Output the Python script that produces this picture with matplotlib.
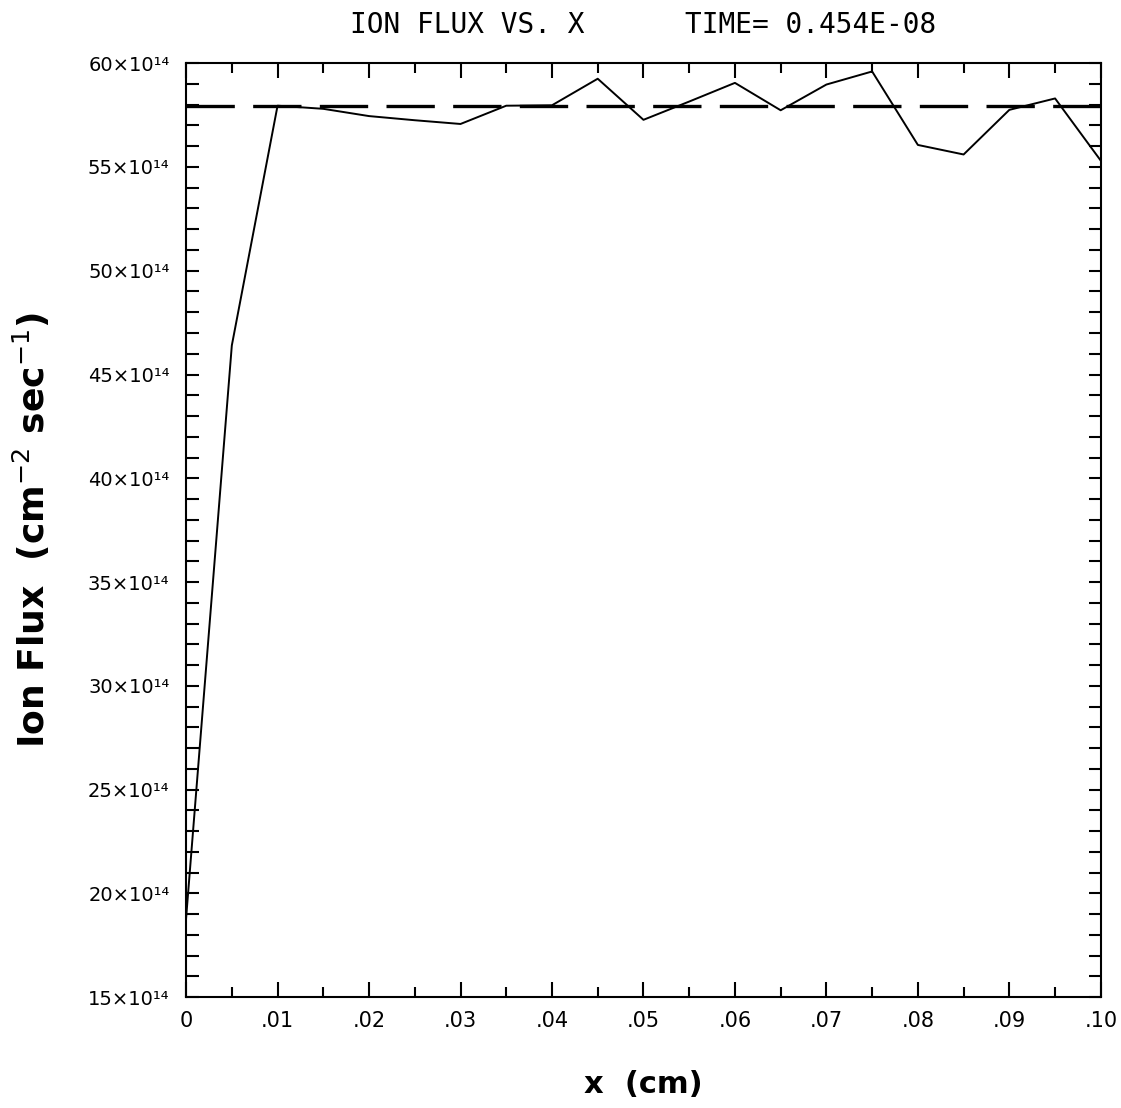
"""
Ion flux vs. x at t = 0.454E-08 s, with the reference (steady) flux as a dashed line.
"""
import matplotlib
matplotlib.use("Agg")
import matplotlib.pyplot as plt
from matplotlib.ticker import MultipleLocator, FuncFormatter

# ── Data (flux in units of 1e14 cm^-2 s^-1) ───────────────────────────────────
x_cm = [0.000, 0.005, 0.010, 0.015, 0.020, 0.025, 0.030, 0.035, 0.040, 0.045,
        0.050, 0.055, 0.060, 0.065, 0.070, 0.075, 0.080, 0.085, 0.090, 0.095,
        0.100]
ion_flux = [18.8, 46.4, 57.95, 57.8, 57.45, 57.25, 57.07, 57.95, 57.97, 59.25,
            57.27, 58.15, 59.05, 57.73, 58.97, 59.6, 56.06, 55.6, 57.75, 58.3,
            55.3]
ref_flux = 57.95
x_ticks = [0.0, 0.01, 0.02, 0.03, 0.04, 0.05, 0.06, 0.07, 0.08, 0.09, 0.10]
x_ticklabels = ["0", ".01", ".02", ".03", ".04", ".05", ".06", ".07", ".08", ".09", ".10"]

# ── Style ──────────────────────────────────────────────────────────────────────
plt.rcParams.update({
    "font.family": "DejaVu Sans",
    "axes.linewidth": 1.5,
})

fig = plt.figure(figsize=(11.21, 11.08), dpi=100)
ax = fig.add_axes([0.166, 0.100, 0.816, 0.843])

ax.plot(x_cm, ion_flux, color="black", linewidth=1.4)
ax.plot([x_cm[0], x_cm[-1]], [ref_flux, ref_flux], color="black",
        linewidth=2.4, linestyle=(0, (14.5, 5.5)))

ax.set_xlim(0, 0.10)
ax.set_ylim(15, 60)

ax.set_xticks(x_ticks)
ax.set_xticklabels(x_ticklabels)
ax.xaxis.set_minor_locator(MultipleLocator(0.005))
ax.yaxis.set_major_locator(MultipleLocator(5))
ax.yaxis.set_minor_locator(MultipleLocator(1))
ax.yaxis.set_major_formatter(FuncFormatter(lambda v, _: f"{v:.0f}×10¹⁴"))

ax.tick_params(which="both", direction="in", top=True, right=True, width=1.5)
ax.tick_params(axis="x", which="major", length=11, pad=10, labelsize=15)
ax.tick_params(axis="x", which="minor", length=7)
ax.tick_params(axis="y", which="both", length=9, pad=12, labelsize=14)

ax.set_title("ION FLUX VS. X      TIME= 0.454E-08", fontsize=20,
             family="DejaVu Sans Mono", pad=22)
ax.set_xlabel("x  (cm)", fontsize=22, fontweight="bold", labelpad=28)
ax.set_ylabel("Ion Flux  (cm$^{-2}$ sec$^{-1}$)", fontsize=26,
              fontweight="bold", labelpad=26)

fig.savefig("out.png", dpi=100)
